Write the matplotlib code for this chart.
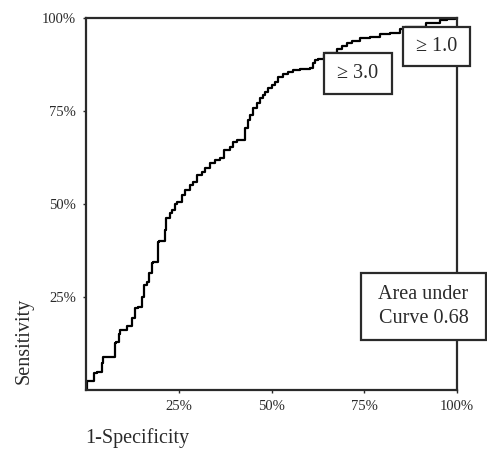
import matplotlib
matplotlib.use("Agg")
import matplotlib.pyplot as plt
from matplotlib.patches import Rectangle

# ROC curve (1-specificity, sensitivity)
fpr = [0.0, 0.003, 0.003, 0.022, 0.029, 0.042, 0.047, 0.056, 0.078, 0.081,
       0.090, 0.092, 0.110, 0.123, 0.132, 0.141, 0.150, 0.156, 0.164, 0.171,
       0.177, 0.180, 0.195, 0.198, 0.213, 0.216, 0.226, 0.231, 0.240, 0.244,
       0.258, 0.267, 0.280, 0.289, 0.298, 0.312, 0.321, 0.334, 0.348, 0.361,
       0.372, 0.372, 0.388, 0.397, 0.406, 0.415, 0.429, 0.429, 0.437, 0.442,
       0.451, 0.460, 0.469, 0.478, 0.482, 0.491, 0.501, 0.509, 0.518, 0.532,
       0.544, 0.559, 0.577, 0.604, 0.613, 0.617, 0.626, 0.642, 0.644, 0.676,
       0.689, 0.703, 0.716, 0.739, 0.765, 0.792, 0.819, 0.846, 0.860, 0.916,
       0.954, 0.972, 0.995, 1.0]
tpr = [0.0, 0.0, 0.024, 0.024, 0.045, 0.049, 0.072, 0.090, 0.090, 0.126,
       0.130, 0.151, 0.161, 0.172, 0.194, 0.220, 0.222, 0.251, 0.282, 0.291,
       0.314, 0.342, 0.345, 0.399, 0.401, 0.430, 0.462, 0.475, 0.484, 0.500,
       0.506, 0.524, 0.538, 0.551, 0.560, 0.578, 0.587, 0.596, 0.609, 0.618,
       0.623, 0.641, 0.645, 0.654, 0.667, 0.672, 0.672, 0.694, 0.703, 0.726,
       0.739, 0.757, 0.771, 0.784, 0.793, 0.802, 0.811, 0.820, 0.829, 0.841,
       0.849, 0.856, 0.860, 0.863, 0.865, 0.878, 0.887, 0.889, 0.903, 0.905,
       0.918, 0.925, 0.932, 0.938, 0.945, 0.950, 0.956, 0.961, 0.970, 0.976,
       0.986, 0.995, 0.997, 1.0]

ticks = [0.25, 0.5, 0.75, 1.0]
tick_labels = ["25%", "50%", "75%", "100%"]

plt.rcParams['font.family'] = ['Liberation Serif', 'DejaVu Serif']
ink = '#2a2a2a'

W, H = 487, 450
fig = plt.figure(figsize=(W / 100, H / 100), dpi=100)
ax = fig.add_axes([86 / W, 1 - 390 / H, 371 / W, 372 / H])

# staircase, like an empirical ROC curve
ax.plot(fpr, tpr, color='black', lw=1.6, drawstyle='steps-pre')
ax.set_xlim(0, 1)
ax.set_ylim(0, 1)
ax.set_xticks(ticks)
ax.set_xticklabels(tick_labels)
ax.set_yticks(ticks)
ax.set_yticklabels(tick_labels)
ax.tick_params(direction='out', length=2, width=1, colors=ink,
               labelsize=10.5, pad=5)
for s in ax.spines.values():
    s.set_linewidth(1.6)
    s.set_color(ink)

# axis titles
fig.text(24 / W, 1 - 341 / H, "Sensitivity", rotation=90, ha='center',
         va='center', fontsize=14.5, color=ink)
fig.text(85 / W, 1 - 438 / H, "1-Specificity", ha='left', va='center',
         fontsize=14.5, color=ink)


def box(x0, y0, x1, y1, text):
    r = Rectangle((x0 / W, 1 - y1 / H), (x1 - x0) / W, (y1 - y0) / H,
                  transform=fig.transFigure, facecolor='white',
                  edgecolor=ink, lw=1.6, zorder=5)
    fig.add_artist(r)
    fig.text((x0 + x1) / 2 / W, 1 - (y0 + y1) / 2 / H, text, ha='center',
             va='center', fontsize=14.5, color=ink, zorder=6,
             linespacing=1.3)


box(403, 27, 470, 66, "≥ 1.0")
box(324, 53, 392, 94, "≥ 3.0")
box(361, 273, 486, 340, "Area under\nCurve 0.68")

fig.savefig("out.png", dpi=100)
